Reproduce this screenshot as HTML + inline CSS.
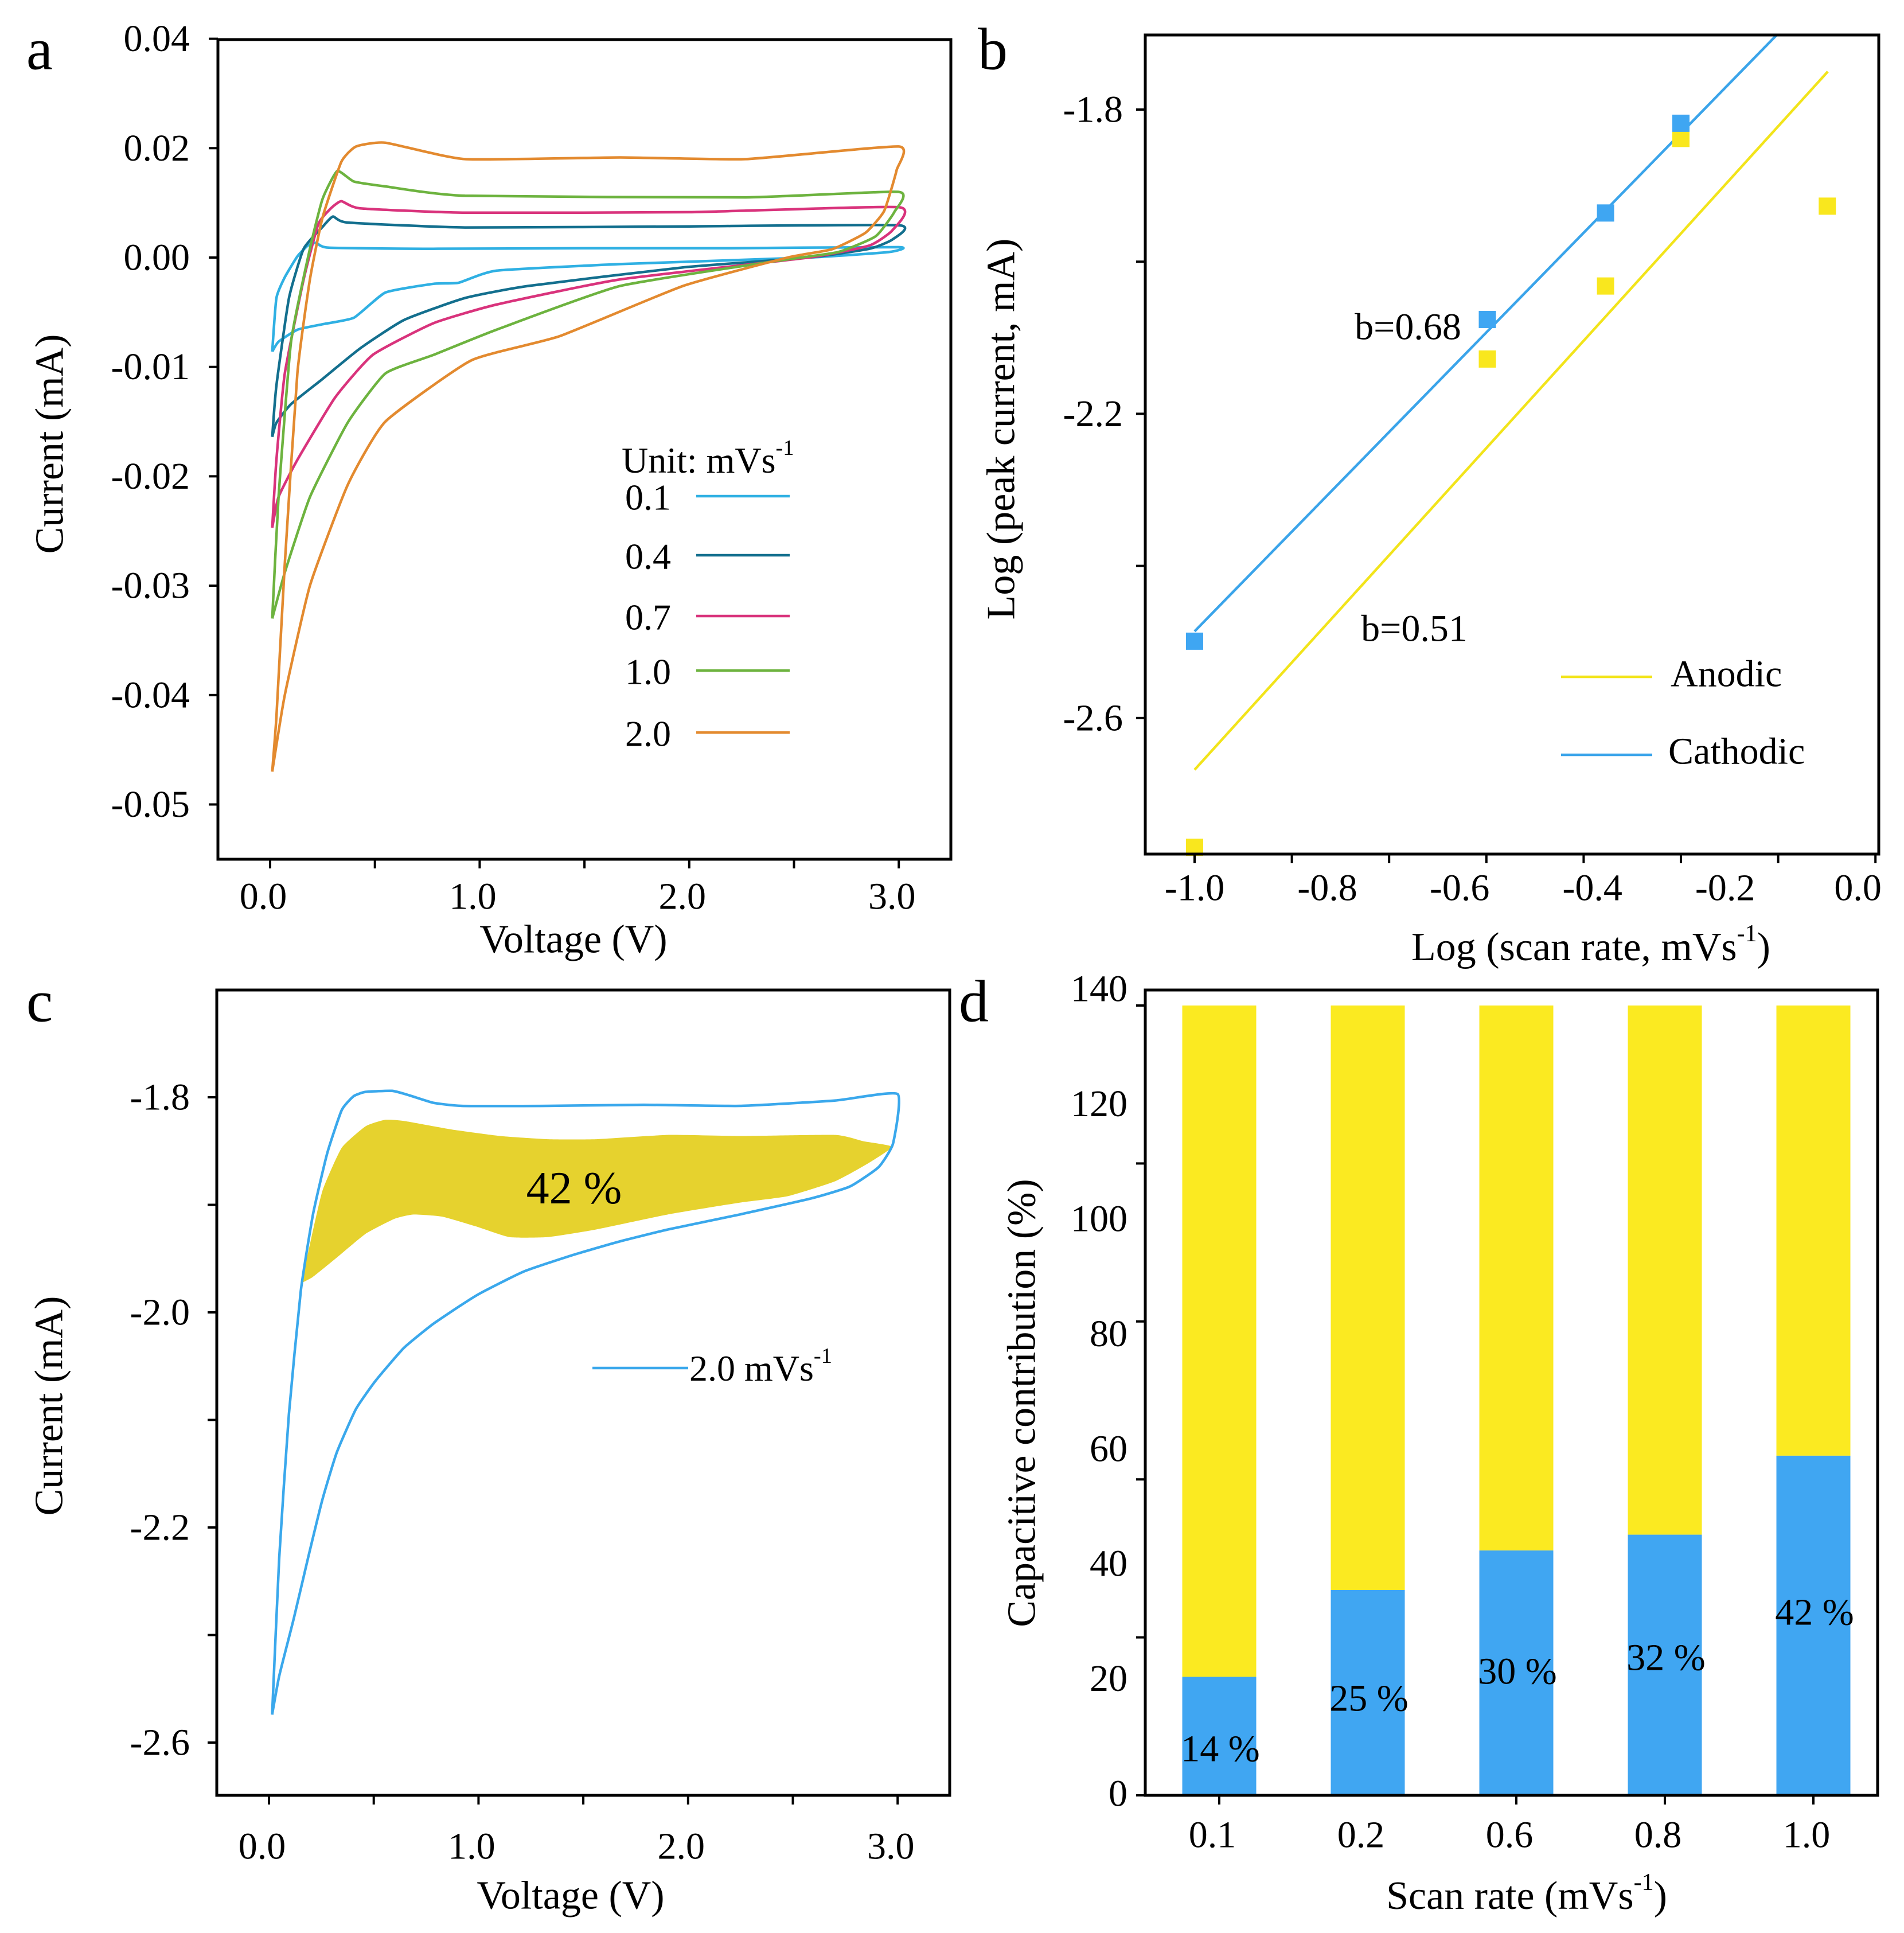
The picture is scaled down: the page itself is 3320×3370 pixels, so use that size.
<!DOCTYPE html>
<html><head><meta charset="utf-8">
<style>
html,body{margin:0;padding:0;background:#fff;}
svg{display:block;font-family:"Liberation Serif",serif;}
</style></head>
<body>
<svg id="fig" width="3320" height="3370" viewBox="0 0 3320 3370" xmlns="http://www.w3.org/2000/svg">
<rect x="0" y="0" width="3320" height="3370" fill="#fff"/>
</svg>
<script>
// ---------- Panel a data ----------
const aRates = ["0.1","0.4","0.7","1.0","2.0"];
const aColors = ["#2fb0e3","#136f8e","#d9337c","#6db33f","#e38a2f"];
const aV01 = [0.01,0.03,0.07,0.13,0.18,0.22,0.28,0.78,1.5,2.2,3.0,2.95,2.57,1.67,1.08,0.9,0.78,0.55,0.40,0.25,0.13,0.04,0.01];
const aI01 = [-0.0086,-0.0037,-0.0018,0.0002,0.0022,0.0027,0.0018,0.0016,0.0017,0.0017,0.0019,0.001,0,-0.0006,-0.0012,-0.0023,-0.0024,-0.0032,-0.0055,-0.0061,-0.0066,-0.0077,-0.0086];
const aV04 = [0.01,0.03,0.09,0.16,0.25,0.30,0.37,0.93,2.0,3.0,2.97,2.86,2.57,1.97,1.23,0.93,0.64,0.43,0.25,0.10,0.03,0.01];
const aI04 = [-0.0164,-0.0117,-0.0037,0.0016,0.0056,0.0075,0.0064,0.0055,0.0057,0.0059,0.0033,0.0016,0,-0.0009,-0.0026,-0.0037,-0.0057,-0.0083,-0.0111,-0.0134,-0.0151,-0.0164];
const aV07 = [0.01,0.03,0.07,0.16,0.23,0.29,0.34,0.43,0.93,2.0,3.0,2.97,2.86,2.57,1.67,1.08,0.78,0.49,0.31,0.13,0.04,0.01];
const aI07 = [-0.0247,-0.0185,-0.0106,-0.002,0.0061,0.009,0.0103,0.009,0.0082,0.0083,0.0092,0.005,0.0022,0,-0.002,-0.0043,-0.006,-0.0089,-0.0128,-0.0185,-0.0219,-0.0247];
const aV10 = [0.01,0.04,0.10,0.19,0.25,0.32,0.40,0.55,0.93,2.27,3.0,2.98,2.89,2.71,2.42,1.67,1.08,0.78,0.55,0.37,0.19,0.07,0.01];
const aI10 = [-0.033,-0.022,-0.0077,0.0016,0.0107,0.0158,0.0139,0.013,0.0113,0.011,0.012,0.0084,0.0039,0.001,-0.0003,-0.0026,-0.0066,-0.0089,-0.0106,-0.0151,-0.0219,-0.0288,-0.033];
const aV20 = [0.01,0.03,0.07,0.13,0.19,0.25,0.34,0.41,0.55,0.93,1.67,2.27,3.0,2.99,2.93,2.84,2.68,2.47,1.97,1.38,0.96,0.55,0.37,0.19,0.07,0.01];
const aI20 = [-0.047,-0.042,-0.028,-0.0106,-0.002,0.0073,0.0175,0.0203,0.021,0.018,0.0183,0.018,0.0203,0.016,0.0085,0.0045,0.0015,0,-0.0026,-0.0072,-0.0094,-0.015,-0.0208,-0.03,-0.04,-0.047];
const aYTicks = [0.04,0.02,0,-0.01,-0.02,-0.03,-0.04,-0.05];
const aYLabels = ["0.04","0.02","0.00","-0.01","-0.02","-0.03","-0.04","-0.05"];
const aXTicks = [0,0.5,1,1.5,2,2.5,3];
const aXLabelVals = [0,1,2,3];
const aXLabels = ["0.0","1.0","2.0","3.0"];

// ---------- Panel b data ----------
const bCathX = [-1,-0.398,-0.155,0];
const bCathY = [-2.499,-2.076,-1.936,-1.818];
const bAnoX = [-1,-0.398,-0.155,0,0.301];
const bAnoY = [-2.770,-2.128,-2.032,-1.838,-1.927];
const bCathFit = {intercept:-2.486, slope:0.655, x0:-1, x1:0.196};
const bAnoFit = {intercept:-2.668, slope:0.705, x0:-1, x1:0.302};
const bXTicks = [-1,-0.8,-0.6,-0.4,-0.2,0,0.2,0.4];
const bXLabels = ["-1.0","-0.8","-0.6","-0.4","-0.2","0.0"];
const bXLabelAt = [-1,-0.727,-0.455,-0.182,0.091,0.364];
const bYTicks = [-1.8,-2.0,-2.2,-2.4,-2.6];
const bYLabels = ["-1.8","","-2.2","","-2.6"];

// ---------- Panel c data ----------
const cV = [0.015,0.049,0.095,0.152,0.210,0.278,0.347,0.404,0.461,0.587,0.667,0.782,0.919,1.331,1.788,2.246,2.703,3.0,2.978,2.909,2.772,2.589,2.246,1.903,1.674,1.445,1.216,1.010,0.919,0.782,0.644,0.507,0.415,0.324,0.255,0.187,0.118,0.049,0.015];
const cI = [-2.374,-2.228,-2.095,-1.980,-1.909,-1.852,-1.812,-1.799,-1.795,-1.794,-1.798,-1.805,-1.808,-1.808,-1.807,-1.808,-1.803,-1.797,-1.843,-1.865,-1.883,-1.894,-1.909,-1.923,-1.934,-1.947,-1.962,-1.982,-1.993,-2.011,-2.033,-2.064,-2.090,-2.130,-2.174,-2.228,-2.285,-2.338,-2.374];
const cFillV = [0.152,0.187,0.255,0.347,0.461,0.553,0.644,0.873,1.102,1.331,1.559,1.903,2.246,2.703,2.840,2.973,2.863,2.703,2.475,2.246,1.903,1.559,1.331,1.148,0.987,0.827,0.690,0.599,0.461,0.324,0.210,0.152];
const cFillI = [-1.973,-1.944,-1.887,-1.847,-1.827,-1.821,-1.822,-1.830,-1.836,-1.839,-1.839,-1.835,-1.836,-1.835,-1.841,-1.846,-1.861,-1.878,-1.892,-1.898,-1.909,-1.923,-1.930,-1.930,-1.920,-1.911,-1.909,-1.913,-1.927,-1.949,-1.967,-1.973];
const cYTicks = [-1.8,-1.9,-2.0,-2.1,-2.2,-2.3,-2.4];
const cYLabels = ["-1.8","","-2.0","","-2.2","","-2.6"];

// ---------- Panel d data ----------
const dCats = ["0.1","0.2","0.6","0.8","1.0"];
const dCap = [15,26,31,33,43];
const dTotal = [100,100,100,100,100];
const dPctLabels = ["14 %","25 %","30 %","32 %","42 %"];
const dYTicks = [0,20,40,60,80,100];
const dYLabels = ["0","20","40","60","80","100","120","140"];

// ---------- helpers ----------
const NS = "http://www.w3.org/2000/svg";
const svg = document.getElementById("fig");
const TICK = 66, TITLE = 70, LEG = 64;
function mk(tag, attrs, parent){
  const e = document.createElementNS(NS, tag);
  for (const k in attrs) e.setAttribute(k, attrs[k]);
  (parent||svg).appendChild(e);
  return e;
}
function txt(str, x, y, size, anchor, parent){
  const t = mk("text",{x:x,y:y,"font-size":size,"text-anchor":anchor||"middle","dominant-baseline":"central",fill:"#000"},parent);
  t.textContent = str;
  return t;
}
function smooth(pts){
  let d = "M"+pts[0][0].toFixed(1)+","+pts[0][1].toFixed(1);
  for (let i=0;i<pts.length-1;i++){
    const p0=pts[Math.max(0,i-1)], p1=pts[i], p2=pts[i+1], p3=pts[Math.min(pts.length-1,i+2)];
    const t=0.08;
    const c1=[p1[0]+(p2[0]-p0[0])*t, p1[1]+(p2[1]-p0[1])*t];
    const c2=[p2[0]-(p3[0]-p1[0])*t, p2[1]-(p3[1]-p1[1])*t];
    d+=" C"+c1[0].toFixed(1)+","+c1[1].toFixed(1)+" "+c2[0].toFixed(1)+","+c2[1].toFixed(1)+" "+p2[0].toFixed(1)+","+p2[1].toFixed(1);
  }
  return d;
}
function rotText(str, x, y, size, parent){
  const t = mk("text",{x:x,y:y,"font-size":size,"text-anchor":"middle","dominant-baseline":"central",transform:"rotate(-90 "+x+" "+y+")"},parent);
  t.textContent = str;
  return t;
}
function supText(parts, x, y, size, anchor, parent){
  const t = mk("text",{x:x,y:y,"font-size":size,"text-anchor":anchor,"dominant-baseline":"central"},parent);
  const a = document.createElementNS(NS,"tspan"); a.textContent = parts[0]; t.appendChild(a);
  const s = document.createElementNS(NS,"tspan"); s.setAttribute("baseline-shift","super"); s.setAttribute("font-size", size*0.6); s.textContent = parts[1]; t.appendChild(s);
  if (parts[2]) { const c = document.createElementNS(NS,"tspan"); c.textContent = parts[2]; t.appendChild(c); }
  return t;
}

// ---------- scales ----------
const xA = v => 471 + v*365.4;
const yA = i => i>=0 ? 449 - i*9535 : 449 - i*19070;
const xB = l => 2083 + (l+1)*848;
const yB = v => 191 + (-1.8 - v)*1326;
const xC = v => 469 + v*365.4;
const yC = v => 1913 + (-1.8 - v)*1875;
const yD = p => 3130 - p*13.77;
const xD = k => 2126 + k*259;

// ================= Panel a =================
const gA = mk("g",{});


const aSeries = [[aV01,aI01],[aV04,aI04],[aV07,aI07],[aV10,aI10],[aV20,aI20]];
aSeries.forEach((s,k)=>{
  const pts = s[0].map((v,i)=>[xA(v), yA(s[1][i])]);
  const p = mk("path",{d:smooth(pts),fill:"none",stroke:aColors[k],"stroke-width":4.5,"stroke-linejoin":"round"},gA);
  
  
});
const frameA = mk("rect",{x:380,y:69,width:1278,height:1429,fill:"none",stroke:"#000","stroke-width":5},gA);


aYTicks.forEach((v,i)=>{
  const y=yA(v);
  const tk = mk("line",{x1:364,x2:380,y1:y,y2:y,stroke:"#000","stroke-width":4},gA);
  
  
  const lb = txt(aYLabels[i],331,y,TICK,"end",gA);
  
  
});
aXTicks.forEach(v=>{
  const x=xA(v);
  const tk = mk("line",{x1:x,x2:x,y1:1498,y2:1514,stroke:"#000","stroke-width":4},gA);
  
  
});
aXLabelVals.forEach((v,i)=>{
  const lb = txt(aXLabels[i],xA(v)-12,1563,TICK,"middle",gA);
  
  
});
const xtA = txt("Voltage (V)",1000,1638,TITLE,"middle",gA);


const ytA = rotText("Current (mA)",87,774,TITLE,gA);


const lA = txt("a",69,86,104,"middle",gA);


const legTitle = supText(["Unit: mVs","-1"],1084,802,LEG,"start",gA);


const legY = [867,970,1076,1171,1279];
aRates.forEach((r,k)=>{
  const t = txt(r,1090,legY[k],LEG,"start",gA);
  
  
  const ln = mk("line",{x1:1214,x2:1377,y1:legY[k]-2,y2:legY[k]-2,stroke:aColors[k],"stroke-width":4.5},gA);
  
  
});

// ================= Panel b =================
const gB = mk("g",{});


const fits = [[bAnoFit,"#f2e41a","anodic-fit-line"],[bCathFit,"#3aa4ea","cathodic-fit-line"]];
fits.forEach(f=>{
  const F=f[0];
  const ln = mk("line",{x1:xB(F.x0),y1:yB(F.intercept+F.slope*(F.x0+1)),x2:xB(F.x1),y2:yB(F.intercept+F.slope*(F.x1+1)),stroke:f[1],"stroke-width":4.5},gB);
  
  
});
bAnoX.forEach((x,i)=>{
  const r = mk("rect",{x:xB(x)-15,y:yB(bAnoY[i])-15,width:30,height:30,fill:"#f9e71e"},gB);
  
  
});
bCathX.forEach((x,i)=>{
  const r = mk("rect",{x:xB(x)-15,y:yB(bCathY[i])-15,width:30,height:30,fill:"#3fa6f2"},gB);
  
  
});
const frameB = mk("rect",{x:1997,y:61,width:1279,height:1428,fill:"none",stroke:"#000","stroke-width":5},gB);


bXTicks.forEach(v=>{
  const x=xB(v);
  const tk = mk("line",{x1:x,x2:x,y1:1489,y2:1505,stroke:"#000","stroke-width":4},gB);
  
  
});
bXLabels.forEach((s,i)=>{
  const lb = txt(s,xB(bXLabelAt[i]),1548,TICK,"middle",gB);
  
  
});
bYTicks.forEach((v,i)=>{
  const y=yB(v);
  const tk = mk("line",{x1:1981,x2:1997,y1:y,y2:y,stroke:"#000","stroke-width":4},gB);
  
  
  if (bYLabels[i]) {
    const lb = txt(bYLabels[i],1958,y,TICK,"end",gB);
    
    
  }
});
const xtB = supText(["Log (scan rate, mVs","-1",")"],2774,1651,TITLE,"middle",gB);


const ytB = rotText("Log (peak current, mA)",1746,748,TITLE,gB);


const lB = txt("b",1731,86,104,"middle",gB);


const b68 = txt("b=0.68",2455,570,66,"middle",gB);


const b51 = txt("b=0.51",2466,1096,66,"middle",gB);


const lgA = mk("line",{x1:2722,x2:2881,y1:1180,y2:1180,stroke:"#f2e41a","stroke-width":4.5},gB);


const lgAt = txt("Anodic",2913,1175,66,"start",gB);


const lgC = mk("line",{x1:2722,x2:2881,y1:1316,y2:1316,stroke:"#3aa4ea","stroke-width":4.5},gB);


const lgCt = txt("Cathodic",2909,1310,66,"start",gB);



// ================= Panel c =================
const gC = mk("g",{});


const fillPts = cFillV.map((v,i)=>[xC(v), yC(cFillI[i])]);
const fillC = mk("path",{d:smooth(fillPts)+" Z",fill:"#e6d22e",stroke:"none"},gC);


const cPts = cV.map((v,i)=>[xC(v), yC(cI[i])]);
const curveC = mk("path",{d:smooth(cPts),fill:"none",stroke:"#3aa8ec","stroke-width":4.5,"stroke-linejoin":"round"},gC);


const frameC = mk("rect",{x:378,y:1726,width:1278,height:1404,fill:"none",stroke:"#000","stroke-width":5},gC);


cYTicks.forEach((v,i)=>{
  const y=yC(v);
  const tk = mk("line",{x1:362,x2:378,y1:y,y2:y,stroke:"#000","stroke-width":4},gC);
  
  
  if (cYLabels[i]) {
    const lb = txt(cYLabels[i],331,y,TICK,"end",gC);
    
    
  }
});
aXTicks.forEach(v=>{
  const x=xC(v);
  const tk = mk("line",{x1:x,x2:x,y1:3130,y2:3146,stroke:"#000","stroke-width":4},gC);
  
  
});
aXLabelVals.forEach((v,i)=>{
  const lb = txt(aXLabels[i],xC(v)-12,3219,TICK,"middle",gC);
  
  
});
const xtC = txt("Voltage (V)",995,3305,TITLE,"middle",gC);


const ytC = rotText("Current (mA)",86,2451,TITLE,gC);


const lC = txt("c",69,1746,104,"middle",gC);


const pct = txt("42 %",1001,2072,80,"middle",gC);


const lgc = mk("line",{x1:1033,x2:1200,y1:2385,y2:2385,stroke:"#3aa8ec","stroke-width":4.5},gC);


const lgct = supText(["2.0 mVs","-1"],1202,2385,LEG,"start",gC);



// ================= Panel d =================
const gD = mk("g",{});


dCats.forEach((c,k)=>{
  const x = xD(k)-64.5;
  const yb = mk("rect",{x:x,y:yD(dTotal[k]),width:129,height:yD(dCap[k])-yD(dTotal[k]),fill:"#fbea21"},gD);
  
  
  const bb = mk("rect",{x:x,y:yD(dCap[k]),width:129,height:yD(0)-yD(dCap[k]),fill:"#40a6f2"},gD);
  
  
});
const dLabelY = [3049,2961,2914,2890,2811];
dPctLabels.forEach((s,k)=>{
  const t = txt(s,xD(k)+2,dLabelY[k],66,"middle",gD);
  
  
});
const frameD = mk("rect",{x:1997,y:1726,width:1277,height:1404,fill:"none",stroke:"#000","stroke-width":5},gD);


dYTicks.forEach(v=>{
  const y=yD(v);
  const tk = mk("line",{x1:1981,x2:1997,y1:y,y2:y,stroke:"#000","stroke-width":4},gD);
  
  
});
dYLabels.forEach((s,k)=>{
  const lb = txt(s,1966,3127-k*200.4,TICK,"end",gD);
  
  
});
dCats.forEach((c,k)=>{
  if (k!==1){
    const tk = mk("line",{x1:xD(k),x2:xD(k),y1:3130,y2:3146,stroke:"#000","stroke-width":4},gD);
    
    
  }
  const lb = txt(c,xD(k)-12,3199,TICK,"middle",gD);
  
  
});
const xtD = supText(["Scan rate (mVs","-1",")"],2662,3305,TITLE,"middle",gD);


const ytD = rotText("Capacitive contribution (%)",1782,2446,TITLE,gD);


const lD = txt("d",1698,1746,104,"middle",gD);


</script>
</body></html>
